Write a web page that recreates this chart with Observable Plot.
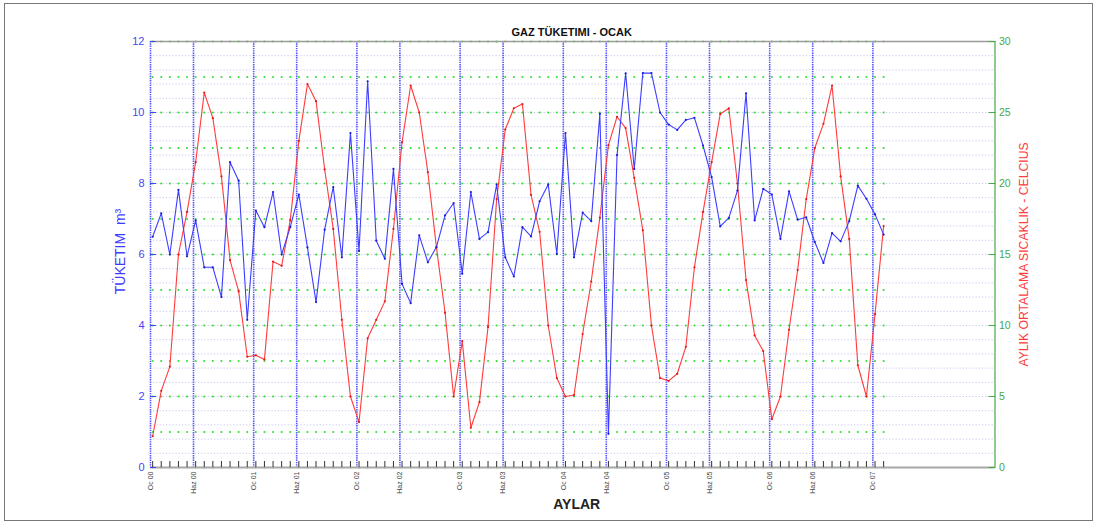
<!DOCTYPE html>
<html>
<head>
<meta charset="utf-8">
<script src="https://cdn.jsdelivr.net/npm/d3@7"></script>
<script src="https://cdn.jsdelivr.net/npm/@observablehq/plot@0.6"></script>
<style>
  body { margin: 0; background: #fff; font-family: "Liberation Sans", Arial, sans-serif; }
  #wrap { position: relative; width: 1098px; height: 525px; }
  #border { position: absolute; left: 4px; top: 3px; width: 1087px; height: 516px; border: 1px solid #777; pointer-events: none; }
</style>
</head>
<body>
<div id="wrap"><div id="border"></div></div>
<script>
// Monthly natural-gas consumption (m³), January 2000 – February 2007
const consumption = [
  6.50, 7.16, 6.00, 7.82, 5.95, 6.96, 5.64, 5.64, 4.80, 8.60, 8.08, 4.16,
  7.24, 6.77, 7.76, 6.00, 6.77, 7.69, 6.20, 4.66, 6.70, 7.90, 5.92, 9.42,
  6.10, 10.88, 6.39, 5.88, 8.41, 5.17, 4.63, 6.54, 5.78, 6.21, 7.10, 7.45,
  5.46, 7.76, 6.44, 6.63, 7.97, 5.92, 5.38, 6.77, 6.51, 7.50, 7.97, 6.02,
  9.42, 5.92, 7.18, 6.94, 9.96, 0.95, 8.80, 11.10, 8.41, 11.11, 11.11, 10.00,
  9.66, 9.51, 9.79, 9.85, 9.07, 8.18, 6.79, 7.03, 7.80, 10.54, 6.96, 7.85,
  7.69, 6.44, 7.78, 6.98, 7.05, 6.35, 5.76, 6.60, 6.37, 6.94, 7.94, 7.57,
  7.13, 6.56
];

// Monthly mean temperature (°C), same months
const temperature = [
  2.2, 5.4, 7.1, 15.0, 18.0, 21.5, 26.4, 24.6, 20.5, 14.6, 12.4, 7.8,
  7.9, 7.6, 14.5, 14.2, 17.4, 23.0, 27.0, 25.8, 21.0, 16.8, 10.4, 5.0,
  3.2, 9.1, 10.4, 11.7, 16.8, 22.9, 26.9, 25.0, 20.8, 15.5, 10.9, 5.0,
  8.9, 2.8, 4.6, 9.9, 18.9, 23.8, 25.3, 25.6, 19.2, 16.6, 10.0, 6.3,
  5.0, 5.1, 9.4, 13.1, 17.6, 22.7, 24.7, 23.9, 20.4, 16.7, 10.0, 6.3,
  6.1, 6.6, 8.5, 14.1, 18.0, 21.5, 24.9, 25.3, 20.0, 13.2, 9.3, 8.2,
  3.4, 5.0, 9.7, 13.9, 18.9, 22.5, 24.2, 26.9, 20.5, 16.1, 7.2, 5.0,
  10.8, 17.0
];

// Labelled month ticks (months since January 2000) and their labels
const tickMonths = [0, 5, 12, 17, 24, 29, 36, 41, 48, 53, 60, 65, 72, 77, 84];
const tickLabels = ["Oc 00", "Haz 00", "Oc 01", "Haz 01", "Oc 02", "Haz 02", "Oc 03", "Haz 03",
                    "Oc 04", "Haz 04", "Oc 05", "Haz 05", "Oc 06", "Haz 06", "Oc 07"];
const leftTicks = [0, 2, 4, 6, 8, 10, 12];
const rightTicks = [0, 5, 10, 15, 20, 25, 30];

const readingOffset = 0.25;      // readings fall about a week into each month
const k = 12 / 30;               // °C → left-axis units
const xMax = 98.2;

const rows = consumption.map((v, i) => ({m: i + readingOffset, gas: v, temp: temperature[i] * k}));
const labelByMonth = new Map(tickMonths.map((m, i) => [m, tickLabels[i]]));

const blue = "#3d3dff", red = "#ff3b3b", green = "#46a846";

const chart = Plot.plot({
  width: 1098,
  height: 525,
  marginLeft: 150,
  marginRight: 103.5,
  marginTop: 41,
  marginBottom: 58,
  style: {fontFamily: "'Liberation Sans', Arial, sans-serif", background: "transparent", overflow: "visible"},
  x: {type: "linear", domain: [0, xMax], axis: null},
  y: {domain: [0, 12], axis: null},
  marks: [
    // 1 °C temperature grid
    Plot.ruleY(d3.range(1, 30).map(t => t * k), {stroke: "#c6c6f0", strokeWidth: 1, strokeDasharray: "1.2,2"}),
    // 2.5 °C temperature grid, dotted at each reading
    Plot.dot(d3.cross(rows, d3.range(0, 30.1, 2.5)), {x: d => d[0].m, y: d => d[1] * k, r: 1.05, fill: "#2ee02e"}),
    // Ocak / Haziran gridlines
    Plot.ruleX(tickMonths, {stroke: "#5252ff", strokeWidth: 1.6, strokeDasharray: "1.4,0.9"}),
    // box
    Plot.ruleY([12], {stroke: "#9a9a9a", strokeWidth: 1.5}),
    Plot.ruleY([0], {stroke: "#a8a8a8", strokeWidth: 2}),
    Plot.ruleX([xMax], {stroke: green, strokeWidth: 1.2}),
    // monthly ticks on the time axis
    Plot.axisX(rows.map(d => d.m), {tickSize: -6, fill: "none", stroke: "#333", label: null}),
    Plot.axisX(tickMonths, {tickSize: 0, tickPadding: 4, tickRotate: -90, tickFormat: d => labelByMonth.get(d),
      fontSize: 7, fill: "#444", stroke: "none", label: null}),
    // left axis (consumption)
    Plot.axisY(leftTicks, {anchor: "left", tickSize: 0, tickPadding: 6, fontSize: 11, fill: "#4646f0", label: null}),
    Plot.axisY(leftTicks, {anchor: "left", tickSize: -6, fill: "none", stroke: "#4646f0", label: null}),
    // right axis (temperature)
    Plot.axisY(rightTicks.map(t => t * k), {anchor: "right", tickSize: 0, tickPadding: 4, fontSize: 10.5,
      tickFormat: d => Math.round(d / k), fill: green, label: null}),
    Plot.axisY(rightTicks.map(t => t * k), {anchor: "right", tickSize: -7, fill: "none", stroke: green, label: null}),
    // series
    Plot.line(rows, {x: "m", y: "temp", stroke: red, strokeWidth: 1.1}),
    Plot.dot(rows, {x: "m", y: "temp", r: 1.1, fill: "#e01c1c"}),
    Plot.line(rows, {x: "m", y: "gas", stroke: blue, strokeWidth: 1.1}),
    Plot.dot(rows, {x: "m", y: "gas", r: 1.1, fill: "#1c1cd8"}),
    // titles
    Plot.text(["GAZ TÜKETIMI - OCAK"], {frameAnchor: "top", lineAnchor: "bottom", dy: -6, dx: -1,
      fontWeight: "bold", fontSize: 11, fill: "#111"}),
    Plot.text(["TÜKETIM  m³"], {frameAnchor: "left", textAnchor: "middle", dx: -30, dy: -3, rotate: -90,
      fontSize: 14, fill: blue}),
    Plot.text(["AYLIK ORTALAMA SICAKLIK - CELCIUS"], {frameAnchor: "right", textAnchor: "middle", dx: 29, rotate: -90,
      fontSize: 12.2, fontFamily: "'Liberation Sans Narrow', 'Liberation Sans', Arial, sans-serif", fill: red}),
    Plot.text(["AYLAR"], {frameAnchor: "bottom", lineAnchor: "bottom", dy: 41, dx: 4,
      fontWeight: "bold", fontSize: 14, fill: "#222"})
  ]
});

document.getElementById("wrap").prepend(chart);
</script>
</body>
</html>
